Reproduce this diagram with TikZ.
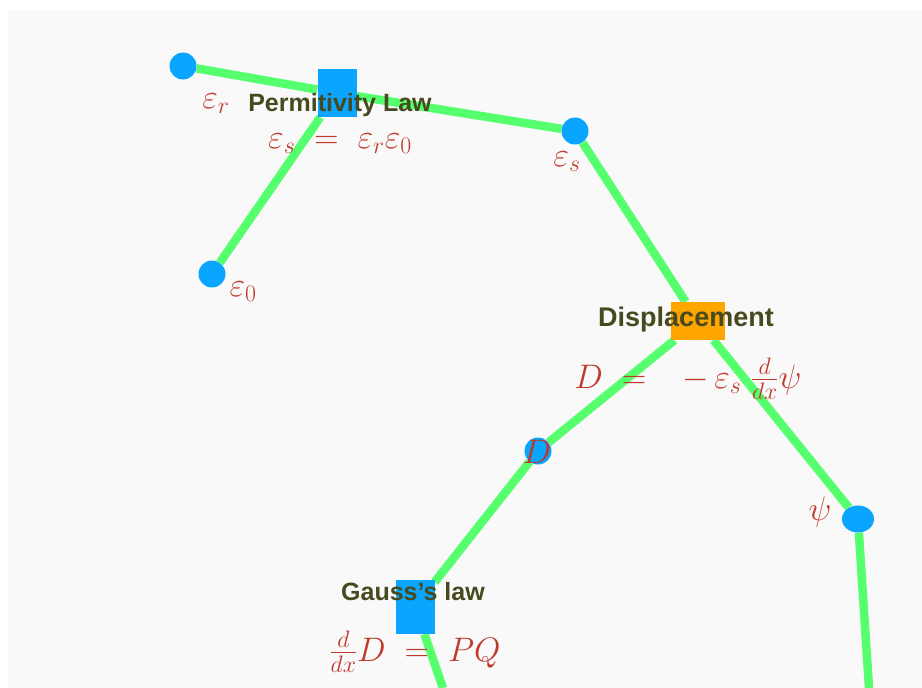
\RequirePackage{fix-cm}
\documentclass[tikz,border=0pt]{standalone}
\usepackage{amsmath}
\usepackage{fontspec}
\setsansfont{Liberation Sans}
\usetikzlibrary{positioning,shapes.geometric}
\definecolor{bggray}{HTML}{F9F9F9}
\definecolor{linkgreen}{HTML}{55FF6D}
\definecolor{dotblue}{HTML}{09A5FF}
\definecolor{laworange}{HTML}{FFA500}
\definecolor{eqred}{HTML}{C0392B}
\definecolor{titleolive}{HTML}{474A1F}
\pgfdeclarelayer{back}
\pgfdeclarelayer{links}
\pgfsetlayers{back,links,main}

\begin{document}
\begin{tikzpicture}[x=1pt,y=-1pt,
  link/.style={draw=linkgreen,line width=8.5pt},
  var/.style={circle,fill=dotblue,inner sep=0pt,minimum size=27pt},
  law/.style={rectangle,inner sep=0pt},
  title/.style={text=titleolive,inner sep=0pt,font=\sffamily\bfseries\fontsize{25}{30}\selectfont},
  eq/.style={text=eqred,inner sep=0pt,font=\fontsize{34}{40}\selectfont}]
\useasboundingbox (0,0) rectangle (922,688);
\begin{pgfonlayer}{back}
\fill[bggray] (8,10) rectangle (922,688);
\end{pgfonlayer}
% variables and laws
\node[var] (er) at (183,66) {};
\node[law,fill=dotblue,minimum width=39pt,minimum height=48pt] (perm) at (337,93) {};
\node[var] (es) at (575,131) {};
\node[var] (e0) at (212,274) {};
\node[law,fill=laworange,minimum width=54pt,minimum height=38pt] (disp) at (698,321) {};
\node[var] (D) at (538,451) {};
\node[var,ellipse,minimum width=32pt,minimum height=27pt] (psi) at (858,519) {};
\node[law,fill=dotblue,minimum width=39pt,minimum height=54pt] (gauss) at (415,607) {};
\coordinate (gaussout) at (443,688);
\coordinate (psiout) at (869,688);
% links
\begin{pgfonlayer}{links}
\draw[link] (er) -- (perm);
\draw[link] (perm) -- (es);
\draw[link] (perm) -- (e0);
\draw[link] (es) -- (disp);
\draw[link] (disp) -- (D);
\draw[link] (disp) -- (psi);
\draw[link] (D) -- (gauss);
\draw[link] (gauss) -- (gaussout);
\draw[link] (psi) -- (psiout);
\end{pgfonlayer}
% labels
\node[eq] (erlbl) at (216,104) {$\varepsilon_r$};
\node[title] (permtitle) at (340,105) {Permitivity Law};
\node[eq] (permeq) at (340,144) {$\varepsilon_s \;=\; \varepsilon_r\varepsilon_0$};
\node[eq] (eslbl) at (567,162) {$\varepsilon_s$};
\node[eq] (e0lbl) at (243,292) {$\varepsilon_0$};
\node[title,font=\sffamily\bfseries\fontsize{27}{32}\selectfont] (disptitle) at (686,320) {Displacement};
\node[eq] (dispeq) at (688,379) {$D \;=\;\enspace -\,\varepsilon_s\;\tfrac{d}{dx}\psi$};
\node[eq] (Dlbl) at (537,452) {$D$};
\node[eq] (psilbl) at (820,512) {$\psi$};
\node[title] (gausstitle) at (413,592) {Gauss’s law};
\node[eq] (gausseq) at (415,652) {$\tfrac{d}{dx}D \;=\; PQ$};
\end{tikzpicture}
\end{document}
